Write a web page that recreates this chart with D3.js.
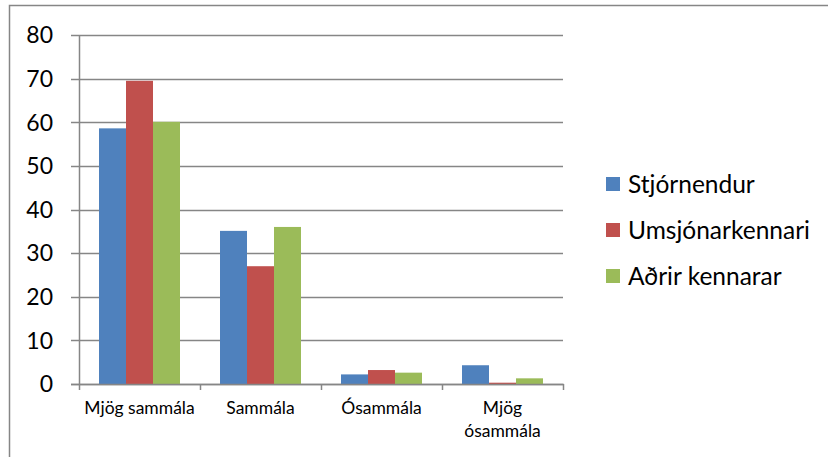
<!DOCTYPE html>
<html><head><meta charset="utf-8">
<script src="https://cdn.jsdelivr.net/npm/d3@7"></script>
<style>body{margin:0;background:#fff;} text{font-family:Lato,"Open Sans",sans-serif;fill:#000;}</style>
</head><body>
<svg id="c" width="828" height="457"></svg>
<script>
const categories = ["Mjög sammála", "Sammála", "Ósammála", "Mjög ósammála"];
const seriesNames = ["Stjórnendur", "Umsjónarkennari", "Aðrir kennarar"];
const stjornendur = [58.6, 35.1, 2.2, 4.3];
const umsjonarkennari = [69.5, 27.0, 3.2, 0.3];
const adrirKennarar = [60.1, 36.0, 2.6, 1.3];
const yTicks = [0, 10, 20, 30, 40, 50, 60, 70, 80];
const colors = ["#4f81bd", "#c0504d", "#9bbb59"];

const series = [stjornendur, umsjonarkennari, adrirKennarar];
const svg = d3.select("#c");
svg.append("rect").attr("x", 9.5).attr("y", 5.5).attr("width", 840).attr("height", 470)
  .attr("fill", "none").attr("stroke", "#868686").attr("stroke-width", 1.5);

const x0 = 79, x1 = 563, yTop = 35, yBot = 384;
const x = d3.scaleBand().domain(categories).range([x0, x1]).paddingInner(0).paddingOuter(0);
const y = d3.scaleLinear().domain([0, 80]).range([yBot, yTop]);
const inner = d3.scaleBand().domain(d3.range(3)).range([20, x.bandwidth() - 20]);

const g = svg.append("g");
g.selectAll("line.grid").data(yTicks).join("line")
  .attr("x1", x0 - 8).attr("x2", x1).attr("y1", d => Math.round(y(d)) + 0.5).attr("y2", d => Math.round(y(d)) + 0.5)
  .attr("stroke", "#868686").attr("stroke-width", 1.5);
g.selectAll("text.yl").data(yTicks).join("text")
  .attr("x", 53).attr("y", d => y(d)).attr("dy", "0.36em").attr("text-anchor", "end")
  .attr("font-size", 23).text(d => d);
series.forEach((s, i) => {
  g.selectAll("rect.s" + i).data(s).join("rect")
    .attr("x", (d, j) => x(categories[j]) + inner(i))
    .attr("width", inner.bandwidth())
    .attr("y", d => y(d)).attr("height", d => y(0) - y(d))
    .attr("fill", colors[i]);
});
g.append("line").attr("x1", x0 + 0.5).attr("x2", x0 + 0.5).attr("y1", yTop).attr("y2", yBot + 6)
  .attr("stroke", "#868686").attr("stroke-width", 1.5);
g.append("line").attr("x1", x0 - 8).attr("x2", x1 + 1).attr("y1", yBot + 0.5).attr("y2", yBot + 0.5)
  .attr("stroke", "#868686").attr("stroke-width", 1.5);
const bounds = categories.map(c => x(c)).concat([x1]);
g.selectAll("line.ct").data(bounds.slice(1)).join("line")
  .attr("x1", d => d + 0.5).attr("x2", d => d + 0.5).attr("y1", yBot).attr("y2", yBot + 6)
  .attr("stroke", "#868686").attr("stroke-width", 1.5);
const xLabelLines = { "Mjög ósammála": ["Mjög", "ósammála"] };
categories.forEach(c => {
  const lines = xLabelLines[c] || [c];
  const t = g.append("text").attr("text-anchor", "middle").attr("font-size", 17.5)
    .attr("x", x(c) + x.bandwidth() / 2).attr("y", 414);
  lines.forEach((l, k) => t.append("tspan").attr("x", x(c) + x.bandwidth() / 2).attr("dy", k ? 23 : 0).text(l));
});
const leg = svg.append("g");
seriesNames.forEach((n, i) => {
  const yy = 184 + i * 46;
  leg.append("rect").attr("x", 606).attr("y", yy - 7).attr("width", 14).attr("height", 14).attr("fill", colors[i]);
  leg.append("text").attr("x", 628).attr("y", yy).attr("dy", "0.36em").attr("font-size", 24.5).text(n);
});
</script>
</body></html>
